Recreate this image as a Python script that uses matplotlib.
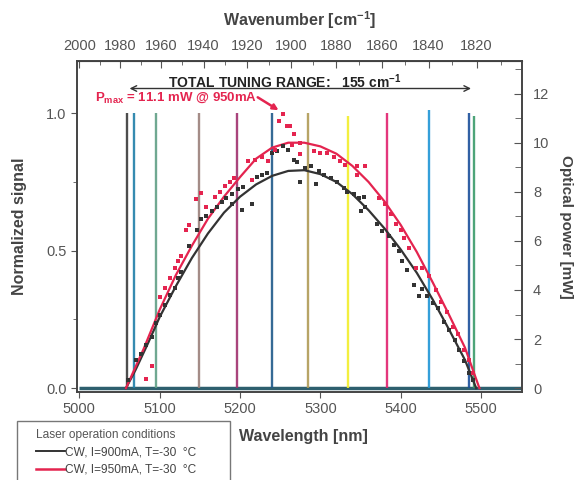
import numpy as np
import matplotlib
matplotlib.use("Agg")
import matplotlib.pyplot as plt
from matplotlib.lines import Line2D
from matplotlib.patches import Rectangle

plt.rcParams['font.family'] = ['Liberation Sans', 'DejaVu Sans']
plt.rcParams['mathtext.fontset'] = 'custom'
plt.rcParams['mathtext.rm'] = 'Liberation Sans'
plt.rcParams['mathtext.bf'] = 'Liberation Sans:bold'

# spectra of the tuned laser (normalized)
peak_nm = [5059, 5068, 5096, 5149, 5196, 5240, 5285, 5334, 5383, 5435, 5485, 5491]
peak_height = [1.0, 1.0, 1.0, 1.0, 1.0, 1.0, 1.0, 0.99, 1.0, 1.01, 1.0, 0.99]
peak_colors = ['#3a3a3a', '#1f7fa8', '#5f9f85', '#9a807a', '#a0306e', '#1f5a8a',
               '#b09a55', '#f2ee2a', '#e0206e', '#1f95d5', '#1a4f9a', '#3a9a6a']

# optical power, I=900mA (measured points)
p900_nm = [5060, 5071, 5077, 5083, 5090, 5095, 5100, 5106, 5113, 5119, 5123, 5127,
           5137, 5146, 5152, 5158, 5165, 5171, 5177, 5183, 5190, 5190, 5198, 5204,
           5202, 5215, 5221, 5227, 5233, 5240, 5246, 5254, 5260, 5267, 5271, 5275,
           5281, 5288, 5294, 5298, 5304, 5313, 5321, 5329, 5333, 5342, 5348, 5350,
           5354, 5356, 5371, 5377, 5385, 5392, 5398, 5402, 5408, 5417, 5423, 5427,
           5433, 5440, 5446, 5454, 5460, 5467, 5473, 5479, 5485, 5490]
p900_mw = [0.33, 1.14, 1.4, 1.75, 2.1, 2.65, 3.0, 3.4, 3.8, 4.1, 4.5, 4.75,
           5.8, 6.45, 6.9, 7.0, 7.2, 7.4, 7.6, 7.75, 7.9, 7.5, 8.1, 8.2,
           7.25, 7.5, 8.6, 8.7, 8.75, 9.6, 9.65, 9.85, 9.7, 9.3, 9.2, 8.4,
           8.95, 9.05, 8.3, 8.85, 8.7, 8.55, 8.4, 8.15, 8.0, 7.9, 7.75, 7.2,
           7.8, 7.4, 6.7, 6.4, 6.2, 5.85, 5.6, 5.2, 4.8, 4.2, 3.75, 4.05,
           3.75, 3.45, 3.25, 2.7, 2.35, 1.95, 1.55, 1.1, 0.6, 0.33]

# optical power, I=950mA (measured points)
p950_nm = [5083, 5090, 5100, 5106, 5113, 5119, 5123, 5127, 5133, 5137, 5145, 5152,
           5158, 5169, 5175, 5181, 5187, 5192, 5210, 5215, 5219, 5227, 5235, 5244,
           5248, 5253, 5258, 5262, 5267, 5265, 5275, 5275, 5292, 5300, 5308, 5317,
           5325, 5331, 5346, 5356, 5346, 5373, 5381, 5388, 5394, 5400, 5404, 5410,
           5419, 5427, 5435, 5444, 5450, 5458, 5465, 5471, 5479, 5485, 5490]
p950_mw = [0.36, 0.9, 3.7, 4.1, 4.5, 4.9, 5.2, 5.4, 6.45, 6.65, 7.7, 7.95,
           7.4, 7.8, 8.0, 8.25, 8.4, 8.55, 9.25, 8.5, 9.3, 9.4, 9.25, 9.7,
           10.9, 11.15, 10.7, 10.7, 10.35, 9.9, 10.0, 9.55, 9.65, 9.6, 9.6, 9.4,
           9.25, 9.1, 9.05, 9.05, 8.7, 7.75, 7.5, 7.1, 6.7, 6.45, 6.1, 5.7,
           4.9, 4.9, 4.55, 4.0, 3.5, 3.1, 2.5, 2.2, 1.55, 1.15, 0.6]

# fitted curves
fit900_nm = [5058, 5070, 5085, 5100, 5120, 5140, 5160, 5180, 5200, 5220, 5240, 5260,
             5280, 5300, 5320, 5340, 5360, 5380, 5400, 5420, 5440, 5460, 5480, 5494]
fit900_mw = [0.0, 0.75, 1.8, 2.9, 4.15, 5.3, 6.3, 7.15, 7.8, 8.3, 8.65, 8.85,
             8.88, 8.72, 8.4, 7.9, 7.25, 6.5, 5.65, 4.7, 3.6, 2.4, 1.15, 0.0]
fit950_nm = [5058, 5080, 5100, 5120, 5140, 5160, 5180, 5200, 5220, 5240, 5260, 5280,
             5300, 5320, 5340, 5360, 5380, 5400, 5420, 5440, 5460, 5480, 5498]
fit950_mw = [0.0, 1.6, 3.2, 4.6, 5.8, 6.9, 7.8, 8.6, 9.35, 9.8, 10.0, 10.0,
             9.85, 9.55, 9.05, 8.4, 7.6, 6.65, 5.55, 4.3, 3.0, 1.65, 0.0]

MW_PER_UNIT = 11.2  # 1.0 normalized == Pmax
RED = '#e4244f'
DARK = '#333333'
GREY = '#555555'

fig = plt.figure(figsize=(5.74, 4.8), dpi=100)
ax = fig.add_axes([0.1341, 0.1833, 0.7753, 0.6896])

ax.hlines(0, 5000, 5550, colors='#2e5f6e', lw=2.5, zorder=1)
ax.vlines(peak_nm, 0, peak_height, colors=peak_colors, lw=1.7, alpha=0.9, zorder=2)

ax.set_xlim(4997, 5551)
ylo, yhi = -0.014, 1.19
ax.set_ylim(ylo, yhi)
ax.set_xticks(np.arange(5000, 5501, 100))
ax.set_yticks([0, 0.5, 1.0])
ax.set_yticklabels(['0.0', '0.5', '1.0'])
ax.set_yticks([0.25, 0.75], minor=True)
ax.tick_params(axis='both', colors=GREY, labelsize=10.5, length=4)
ax.tick_params(axis='y', which='minor', length=3, colors=GREY)
ax.set_xlabel('Wavelength [nm]', fontsize=11.5, fontweight='bold', color='#444444')
ax.xaxis.set_label_coords(0.51, -0.112)
ax.set_ylabel('Normalized signal', fontsize=11.5, fontweight='bold', color='#444444', labelpad=14)
for s in ax.spines.values():
    s.set_color('#444444')
    s.set_linewidth(1.2)

# power on the right axis
ax2 = ax.twinx()
ax2.set_ylim(ylo * MW_PER_UNIT, yhi * MW_PER_UNIT)
ax2.plot(fit900_nm, fit900_mw, color=DARK, lw=1.6, zorder=3)
ax2.plot(fit950_nm, fit950_mw, color=RED, lw=1.6, zorder=3)
ax2.plot(p900_nm, p900_mw, 's', color=DARK, ms=3.1, mew=0, zorder=4)
ax2.plot(p950_nm, p950_mw, 's', color=RED, ms=3.1, mew=0, zorder=4)
ax2.set_yticks(np.arange(0, 13, 2))
ax2.set_yticks(np.arange(1, 14, 2), minor=True)
ax2.tick_params(axis='y', which='both', direction='in', colors=GREY, labelsize=10.5, length=6, pad=8)
ax2.tick_params(axis='y', which='minor', length=5)
ax2.set_ylabel('Optical power [mW]', fontsize=11, fontweight='bold', color='#444444',
               rotation=270, labelpad=17)
for s in ax2.spines.values():
    s.set_color('#444444')
    s.set_linewidth(1.2)

# top wavenumber axis
top = ax.secondary_xaxis('top', functions=(lambda x: 1e7 / x, lambda k: 1e7 / k))
top.set_xticks(np.arange(1820, 2001, 20))
top.set_xticks(np.arange(1810, 2001, 10), minor=True)
top.tick_params(axis='x', which='both', direction='in', colors=GREY, labelsize=10.5, length=5, pad=6)
top.tick_params(axis='x', which='minor', length=3)
top.set_xlabel(r'Wavenumber [cm$^{\mathregular{-1}}$]', fontsize=11.5, fontweight='bold',
               color='#444444', labelpad=9)

# tuning range arrow
ax.annotate('', xy=(5059, 1.09), xytext=(5491, 1.09),
            arrowprops=dict(arrowstyle='<->', color='#333333', lw=1.0))
ax.text(5255, 1.116, r'TOTAL TUNING RANGE:   155 cm$^{\mathregular{-1}}$', ha='center', va='center',
        fontsize=10, fontweight='bold', color='#222222')

# Pmax annotation
ax.text(5020, 1.057, r'P$_{\mathregular{max}}$ = 11.1 mW @ 950mA', ha='left', va='center',
        fontsize=9.5, fontweight='bold', color=RED)
ax.annotate('', xy=(5248, 1.011), xytext=(5222, 1.058),
            arrowprops=dict(arrowstyle='-|>', color=RED, lw=1.8, mutation_scale=8,
                            shrinkA=0, shrinkB=0))

# legend box (runs off the bottom of the figure)
fig.patches.append(Rectangle((17 / 574, -0.05), 213 / 574, (1 - 421 / 480) + 0.05,
                             transform=fig.transFigure, fill=False, ec='#777777', lw=1.0))
handles = [Line2D([], [], color=DARK, lw=1.4), Line2D([], [], color=RED, lw=1.8)]
leg = fig.legend(handles, ['CW, I=900mA, T=-30  °C', 'CW, I=950mA, T=-30  °C'],
                 title='Laser operation conditions', loc='upper left',
                 bbox_to_anchor=(36 / 574, 1 - 429 / 480), fontsize=8.6, title_fontsize=8.6,
                 frameon=False, handlelength=2.4, handletextpad=0.05, borderpad=0,
                 labelspacing=0.45, borderaxespad=0)
leg._legend_box.align = 'left'
for t in leg.get_texts():
    t.set_color('#444444')
leg.get_title().set_color('#555555')

fig.savefig('out.png', dpi=100)
